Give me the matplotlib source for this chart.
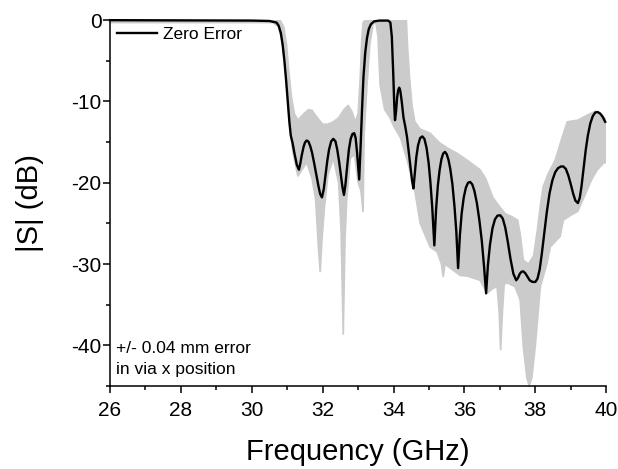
import numpy as np
import matplotlib
matplotlib.use("Agg")
import matplotlib.pyplot as plt

plt.rcParams.update({"font.family": ["Liberation Sans", "DejaVu Sans"],
                     "axes.unicode_minus": False})

# zero-error response (GHz, dB)
freq = [26.0, 30.0, 30.5, 30.7, 30.76, 30.82, 30.87, 30.92, 30.97, 31.02, 31.06, 31.1, 31.15,
        31.2, 31.27, 31.33, 31.37, 31.41, 31.46, 31.5, 31.55, 31.6, 31.65, 31.7, 31.76,
        31.82, 31.88, 31.93, 31.98, 32.03, 32.08, 32.13, 32.18, 32.24, 32.3, 32.36, 32.41,
        32.46, 32.51, 32.56, 32.6, 32.64, 32.69, 32.74, 32.79, 32.84, 32.89, 32.93, 32.97,
        33.0, 33.03, 33.07, 33.11, 33.15, 33.2, 33.25, 33.3, 33.36, 33.45, 33.6, 33.85,
        33.91, 33.95, 33.99, 34.02, 34.04, 34.07, 34.1, 34.13, 34.16, 34.19, 34.23, 34.28,
        34.33, 34.38, 34.43, 34.48, 34.52, 34.56, 34.6, 34.64, 34.69, 34.75, 34.81, 34.87,
        34.93, 34.99, 35.04, 35.09, 35.15, 35.2, 35.25, 35.3, 35.35, 35.4, 35.45, 35.5,
        35.55, 35.6, 35.66, 35.72, 35.77, 35.82, 35.87, 35.92, 35.98, 36.04, 36.1, 36.16,
        36.22, 36.28, 36.35, 36.42, 36.49, 36.55, 36.61, 36.66, 36.72, 36.79, 36.86, 36.93,
        37.01, 37.08, 37.15, 37.22, 37.3, 37.38, 37.46, 37.51, 37.56, 37.61, 37.66, 37.71,
        37.77, 37.84, 37.92, 38.0, 38.06, 38.12, 38.18, 38.25, 38.32, 38.4, 38.48, 38.56,
        38.64, 38.72, 38.79, 38.86, 38.93, 39.0, 39.07, 39.13, 39.2, 39.25, 39.3, 39.36,
        39.42, 39.48, 39.55, 39.62, 39.69, 39.76, 39.83, 39.9, 39.97]
s_zero = [0.0, -0.05, -0.1, -0.3, -0.7, -1.6, -3.0, -5.0, -7.5, -10.2, -12.5, -14.2, -15.1,
          -16.3, -17.8, -18.4, -17.6, -16.6, -15.6, -15.05, -14.8, -14.95, -15.5, -16.3, -17.6,
          -19.0, -20.4, -21.4, -21.8, -20.8, -19.0, -17.3, -15.9, -14.9, -14.6, -14.9, -15.9,
          -17.3, -19.0, -20.6, -21.5, -20.3, -18.0, -15.9, -14.6, -14.0, -13.9, -14.5, -16.3,
          -18.0, -19.6, -15.5, -11.0, -7.0, -4.0, -2.2, -1.1, -0.5, -0.15, -0.05, -0.05,
          -0.3, -2.0, -6.5, -10.5, -12.3, -11.2, -9.5, -8.6, -8.3, -8.7, -10.0, -12.0,
          -13.1, -14.4, -16.3, -18.3, -19.7, -20.7, -18.8, -16.9, -15.4, -14.5, -14.3, -14.6,
          -15.7, -17.6, -20.0, -23.0, -27.7, -23.2, -20.3, -18.4, -17.1, -16.4, -16.2, -16.5,
          -17.2, -18.3, -20.2, -23.0, -26.0, -30.5, -26.5, -23.8, -21.8, -20.6, -20.0, -19.9,
          -20.2, -21.0, -22.5, -24.6, -27.2, -30.2, -33.6, -30.2, -27.6, -25.6, -24.5, -24.05,
          -24.0, -24.4, -25.5, -27.2, -29.4, -31.2, -32.0, -31.7, -31.2, -30.95, -30.9, -31.1,
          -31.5, -32.0, -32.2, -32.2, -31.8, -30.7, -28.8, -26.3, -23.7, -21.3, -19.7, -18.7,
          -18.2, -18.0, -18.0, -18.3, -19.1, -20.2, -21.4, -22.2, -22.5, -21.9, -20.5, -18.3,
          -16.0, -14.2, -12.7, -11.8, -11.35, -11.3, -11.5, -11.9, -12.5]

# spread of the +/- 0.04 mm runs: top and bottom edges of the grey band
freq_top = [26.0, 30.8, 30.9, 30.98, 31.05, 31.12, 31.2, 31.3, 31.45, 31.6, 31.7, 31.85, 32.0,
            32.15, 32.3, 32.45, 32.6, 32.72, 32.82, 32.92, 33.0, 33.06, 33.1, 33.14, 33.2,
            34.36, 34.4, 34.45, 34.52, 34.6, 34.75, 35.03, 35.3, 35.55, 35.8, 36.1, 36.44,
            36.6, 36.8, 37.0, 37.15, 37.35, 37.5, 37.58, 37.66, 37.8, 37.95, 38.05, 38.15,
            38.22, 38.35, 38.56, 38.75, 38.9, 39.2, 39.5, 39.7, 39.85, 40.0]
s_top = [0.0, 0.0, -0.8, -3.0, -6.5, -9.5, -11.5, -12.3, -11.6, -11.0, -11.1, -12.0, -12.8,
         -12.8, -12.5, -12.0, -11.0, -10.5, -11.2, -12.5, -11.5, -7.0, -2.5, -0.3, 0.0,
         0.0, -3.7, -7.0, -10.5, -12.5, -13.4, -13.9, -15.1, -15.8, -16.4, -17.3, -18.4,
         -19.5, -21.8, -23.0, -23.8, -24.2, -24.6, -26.5, -29.5, -30.0, -29.0, -26.0, -22.5,
         -20.5, -19.0, -17.2, -14.5, -12.5, -12.3, -11.6, -11.2, -11.5, -12.3]
freq_bot = [26.0, 30.6, 30.75, 30.85, 30.95, 31.05, 31.15, 31.3, 31.4, 31.55, 31.7, 31.8, 31.88,
            31.93, 31.98, 32.05, 32.15, 32.3, 32.45, 32.52, 32.58, 32.63, 32.68, 32.78, 32.9,
            33.0, 33.08, 33.14, 33.17, 33.25, 33.33, 33.42, 33.5, 33.56, 33.62, 33.75, 33.9,
            34.0, 34.2, 34.4, 34.6, 34.75, 35.03, 35.23, 35.35, 35.4, 35.45, 35.6, 35.88,
            36.1, 36.44, 36.64, 36.8, 36.92, 36.98, 37.02, 37.07, 37.12, 37.2, 37.43, 37.57,
            37.66, 37.76, 37.83, 37.9, 38.0, 38.14, 38.33, 38.42, 38.7, 38.79, 39.0, 39.2,
            39.4, 39.6, 39.75, 39.92, 40.0]
s_bot = [-0.3, -0.3, -0.8, -2.5, -6.0, -12.0, -16.0, -19.2, -18.5, -17.5, -19.5, -22.0, -28.0,
         -31.0, -27.0, -23.0, -19.0, -17.0, -20.0, -26.0, -38.7, -27.0, -22.0, -17.0, -16.5,
         -20.0, -21.0, -23.6, -14.0, -8.0, -3.0, -0.5, -0.3, -2.0, -8.0, -11.0, -12.0,
         -13.0, -14.5, -17.5, -21.0, -25.0, -27.9, -28.5, -30.0, -31.6, -30.0, -30.5, -31.4,
         -31.5, -32.0, -33.6, -33.0, -32.8, -36.0, -40.6, -36.0, -32.5, -32.3, -32.8, -34.4,
         -40.2, -44.0, -45.0, -44.0, -40.0, -32.8, -29.9, -27.9, -26.6, -24.6, -24.0, -23.5,
         -21.5, -19.5, -18.4, -17.6, -17.5]

fig = plt.figure(figsize=(6.18, 4.69), dpi=100)
ax = fig.add_axes([0.178, 0.177, 0.803, 0.780])

band_x = np.concatenate([freq_top, freq_bot[::-1]])
band_y = np.concatenate([s_top, s_bot[::-1]])
ax.fill(band_x, band_y, color="#cbcbcb", lw=1.2, ec="#cbcbcb", zorder=1)
ax.plot(freq, s_zero, color="black", lw=1.7, label="Zero Error", zorder=3,
        clip_on=False, solid_joinstyle="round")

ax.set_xlim(26, 40)
ax.set_ylim(-45, 0)
ax.set_xticks(range(26, 41, 2))
ax.set_xticks(range(27, 40, 2), minor=True)
ax.set_yticks(range(-40, 1, 10))
ax.set_yticks(range(-45, 0, 10), minor=True)
for side in ("top", "right"):
    ax.spines[side].set_visible(False)
for side in ("left", "bottom"):
    ax.spines[side].set_linewidth(1.1)
ax.tick_params(which="major", direction="out", length=5, width=1.1, labelsize=15)
ax.tick_params(which="minor", direction="out", length=3, width=1.1)
ax.tick_params(axis="y", pad=1)
ax.tick_params(axis="x", pad=6)

ax.set_xlabel("Frequency (GHz)", fontsize=21, labelpad=13)
ax.set_ylabel("|S| (dB)", fontsize=21, labelpad=20)

ax.legend(loc="upper left", frameon=False, fontsize=12.5, handlelength=2.3,
          borderaxespad=0.3, borderpad=0.1, handletextpad=0.35)
ax.text(0.012, 0.074, "+/- 0.04 mm error\nin via x position", transform=ax.transAxes,
        fontsize=12.5, va="center", ha="left", linespacing=1.45)

fig.savefig("out.png", dpi=100)
